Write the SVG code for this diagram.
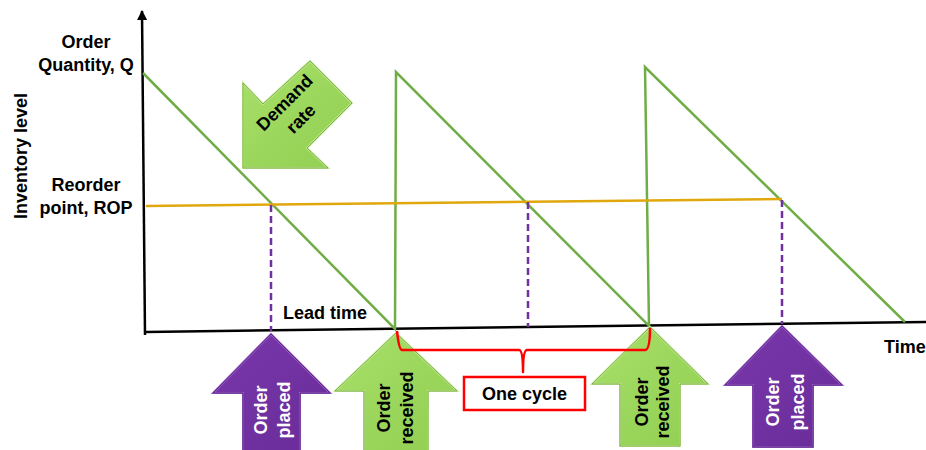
<svg xmlns="http://www.w3.org/2000/svg" width="926" height="450" viewBox="0 0 926 450">
  <style>
    .lbl { font-family: "Liberation Sans", Arial, sans-serif; font-weight: bold; font-size: 18px; fill: #000; }
    .mid { text-anchor: middle; }
    .wht { fill: #fff; }
    .axis { stroke: #000; stroke-width: 2.5; fill: none; }
    .stock { stroke: #70AD47; stroke-width: 2.5; fill: none; stroke-linejoin: miter; }
    .rop { stroke: #E0A80C; stroke-width: 2.5; fill: none; }
    .drop { stroke: #7030A0; stroke-width: 2.5; stroke-dasharray: 7 4; fill: none; }
    .green { fill: url(#gGreen); stroke: #C4EC96; stroke-width: 2; stroke-linejoin: miter; }
    .purple { fill: url(#gPurple); stroke: #9B5CC8; stroke-width: 2; stroke-linejoin: miter; }
    .edgeG { fill: none; stroke: #6E9E3A; stroke-width: 0.8; }
    .edgeP { fill: none; stroke: #4B1E70; stroke-width: 0.8; }
    .brace { stroke: #FF0000; stroke-width: 2.5; fill: none; stroke-linejoin: round; }
  </style>
  <defs>
    <marker id="axisHead" viewBox="0 0 10 10" refX="9" refY="5" markerWidth="4" markerHeight="4" orient="auto">
      <path d="M0,0 L10,5 L0,10 z" fill="#000"/>
    </marker>
    <linearGradient id="gGreen" x1="0" y1="0" x2="1" y2="1">
      <stop offset="0" stop-color="#A8E06A"/>
      <stop offset="1" stop-color="#90CE50"/>
    </linearGradient>
    <linearGradient id="gPurple" x1="0" y1="0" x2="1" y2="1">
      <stop offset="0" stop-color="#7A38AC"/>
      <stop offset="1" stop-color="#692C98"/>
    </linearGradient>
  </defs>

  <!-- axes -->
  <g id="axes">
    <line class="axis" x1="145" y1="335" x2="142" y2="11" marker-end="url(#axisHead)"/>
    <line class="axis" x1="146" y1="332" x2="926" y2="322"/>
  </g>

  <!-- axis labels -->
  <g id="axis-labels">
    <text class="lbl mid" x="86" y="48">Order</text>
    <text class="lbl mid" x="86" y="71">Quantity, Q</text>
    <text class="lbl mid" x="86" y="191">Reorder</text>
    <text class="lbl mid" x="86" y="214">point, ROP</text>
    <text class="lbl mid" transform="translate(26.5,156) rotate(-90)">Inventory level</text>
    <text class="lbl" x="283" y="319">Lead time</text>
    <text class="lbl" x="884" y="353">Time</text>
  </g>

  <!-- inventory curve, reorder point and lead-time markers -->
  <g id="connectors">
    <polyline class="stock" points="143,73 395,329 396,72 649,326 645,67 905,322"/>
    <line class="rop" x1="146" y1="206" x2="782" y2="199"/>
    <line class="drop" x1="271" y1="205" x2="271" y2="331"/>
    <line class="drop" x1="528" y1="202" x2="528" y2="327"/>
    <line class="drop" x1="782" y1="200" x2="782" y2="324"/>
  </g>

  <!-- demand rate arrow -->
  <g id="demand-rate">
    <polygon class="green" points="243,168 243,83 263,104 310,61 352,103 307,148 328,168"/>
    <polygon class="edgeG" points="243,168 243,83 263,104 310,61 352,103 307,148 328,168"/>
    <g transform="translate(291,109) rotate(-45)">
      <text class="lbl mid" x="0" y="-3">Demand</text>
      <text class="lbl mid" x="0" y="20">rate</text>
    </g>
  </g>

  <!-- order placed (first) -->
  <g id="order-placed-1">
    <polygon class="purple" points="271,334 330,393 300,393 300,451 243,451 243,393 213,393"/>
    <polygon class="edgeP" points="271,334 330,393 300,393 300,451 243,451 243,393 213,393"/>
    <g transform="translate(271.5,410) rotate(-90)">
      <text class="lbl mid wht" x="0" y="-5">Order</text>
      <text class="lbl mid wht" x="0" y="18">placed</text>
    </g>
  </g>

  <!-- order received (first) -->
  <g id="order-received-1">
    <polygon class="green" points="396,333 457,391 428,391 428,451 364,451 364,391 335,391"/>
    <polygon class="edgeG" points="396,333 457,391 428,391 428,451 364,451 364,391 335,391"/>
    <g transform="translate(396,408) rotate(-90)">
      <text class="lbl mid" x="0" y="-6">Order</text>
      <text class="lbl mid" x="0" y="17">received</text>
    </g>
  </g>

  <!-- order received (second) -->
  <g id="order-received-2">
    <polygon class="green" points="650,327 708,384 680,384 680,446 620,446 620,384 592,384"/>
    <polygon class="edgeG" points="650,327 708,384 680,384 680,446 620,446 620,384 592,384"/>
    <g transform="translate(651,402) rotate(-90)">
      <text class="lbl mid" x="0" y="-3">Order</text>
      <text class="lbl mid" x="0" y="18">received</text>
    </g>
  </g>

  <!-- order placed (second) -->
  <g id="order-placed-2">
    <polygon class="purple" points="782,326 842,385 813,385 813,447 753,447 753,385 725,385"/>
    <polygon class="edgeP" points="782,326 842,385 813,385 813,447 753,447 753,385 725,385"/>
    <g transform="translate(784,402) rotate(-90)">
      <text class="lbl mid wht" x="0" y="-5">Order</text>
      <text class="lbl mid wht" x="0" y="20">placed</text>
    </g>
  </g>

  <!-- one cycle brace and label, drawn over the arrow tips -->
  <g id="one-cycle">
    <path class="brace" d="M397,331 Q399,350 402,350 L519,350 Q523,350 523,372 Q523,350 527,350 L645,350 Q650,350 650,328"/>
    <rect x="464" y="377" width="121" height="33" fill="#fff" stroke="#FF0000" stroke-width="2.5"/>
    <text class="lbl mid" x="524.5" y="400">One cycle</text>
  </g>
</svg>
